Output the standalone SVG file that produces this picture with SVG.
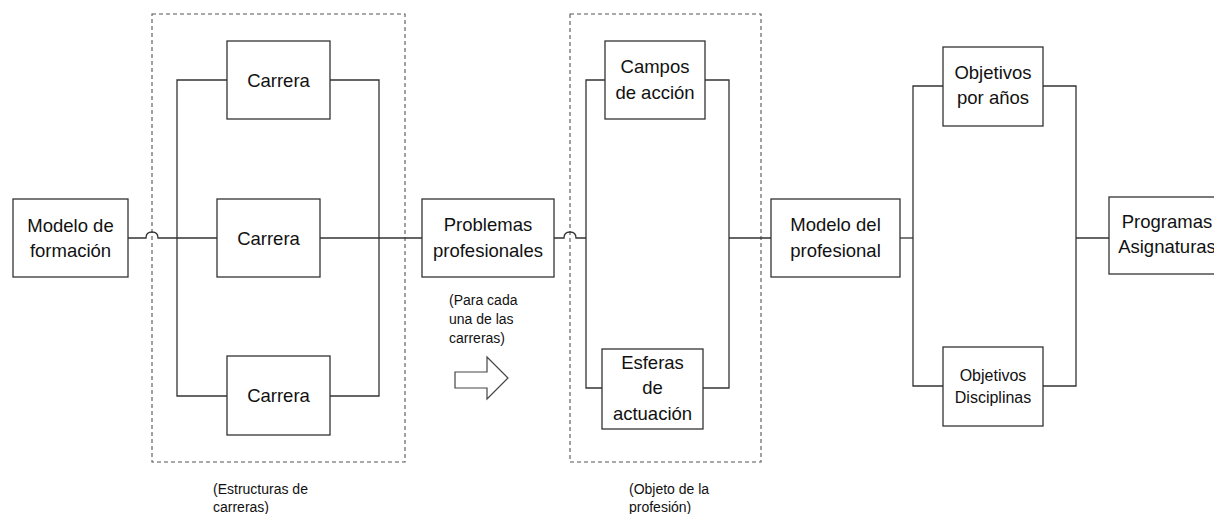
<svg xmlns="http://www.w3.org/2000/svg" width="1214" height="514" viewBox="0 0 1214 514">
<style>
.box{fill:#fff;stroke:#333;stroke-width:1.3}
.grp{fill:none;stroke:#555;stroke-width:1.1;stroke-dasharray:4 3}
.con{fill:none;stroke:#333;stroke-width:1.3}
text{font-family:"Liberation Sans",Arial,sans-serif;fill:#111}
.t{font-size:18.5px;text-anchor:middle}
.s{font-size:16px;text-anchor:middle}
.n{font-size:14px}
</style>
<rect width="1214" height="514" fill="#fff"/>
<g id="groups">
<rect id="grupo-estructuras" class="grp" x="152" y="14" width="253" height="448"/>
<rect id="grupo-objeto" class="grp" x="570" y="14" width="191" height="448"/>
</g>
<g id="connectors">
<path class="con" d="M128,238 H146 Q146,232 152,232 Q158,232 158,238 H217"/>
<path class="con" d="M227,80 H177 V396 H227"/>
<path class="con" d="M330,80 H379 V396 H330"/>
<path class="con" d="M320,238 H422"/>
<path class="con" d="M554,238 H564 Q564,232 570,232 Q576,232 576,238 H586"/>
<path class="con" d="M605,80 H586 V388 H602"/>
<path class="con" d="M705,80 H729 V388 H703"/>
<path class="con" d="M729,238 H771"/>
<path class="con" d="M900,238 H913"/>
<path class="con" d="M943,86 H913 V386 H943"/>
<path class="con" d="M1043,86 H1076 V386 H1043"/>
<path class="con" d="M1076,238 H1109"/>
</g>
<g id="modelo-formacion">
<rect class="box" x="13" y="199" width="115" height="78"/>
<text class="t" x="70.5" y="232">Modelo de</text>
<text class="t" x="70.5" y="257">formación</text>
</g>
<g id="carrera-1">
<rect class="box" x="227" y="41" width="103" height="78"/>
<text class="t" x="278.5" y="86.5">Carrera</text>
</g>
<g id="carrera-2">
<rect class="box" x="217" y="199" width="103" height="78"/>
<text class="t" x="268.5" y="244.5">Carrera</text>
</g>
<g id="carrera-3">
<rect class="box" x="227" y="356" width="103" height="79"/>
<text class="t" x="278.5" y="402">Carrera</text>
</g>
<g id="problemas">
<rect class="box" x="422" y="199" width="132" height="78"/>
<text class="t" x="488" y="231">Problemas</text>
<text class="t" x="488" y="257">profesionales</text>
</g>
<g id="nota-carreras">
<text class="n" x="449" y="305">(Para cada</text>
<text class="n" x="449" y="324">una de las</text>
<text class="n" x="449" y="343">carreras)</text>
<path d="M455,372 H487 V357 L508,378 L487,399 V388 H455 Z" fill="#fff" stroke="#444" stroke-width="1.2"/>
</g>
<g id="campos">
<rect class="box" x="605" y="41" width="100" height="78"/>
<text class="t" x="655" y="73">Campos</text>
<text class="t" x="655" y="99">de acción</text>
</g>
<g id="esferas">
<rect class="box" x="602" y="349" width="101" height="80"/>
<text class="t" x="652.5" y="369">Esferas</text>
<text class="t" x="652.5" y="394">de</text>
<text class="t" x="652.5" y="420">actuación</text>
</g>
<g id="modelo-profesional">
<rect class="box" x="771" y="199" width="129" height="78"/>
<text class="t" x="835.5" y="231">Modelo del</text>
<text class="t" x="835.5" y="257">profesional</text>
</g>
<g id="objetivos-anos">
<rect class="box" x="943" y="47" width="100" height="79"/>
<text class="t" x="993" y="79">Objetivos</text>
<text class="t" x="993" y="104">por años</text>
</g>
<g id="objetivos-disciplinas">
<rect class="box" x="943" y="347" width="100" height="79"/>
<text class="s" x="993" y="381">Objetivos</text>
<text class="s" x="993" y="403">Disciplinas</text>
</g>
<g id="programas">
<rect class="box" x="1109" y="197" width="125" height="77"/>
<text class="t" x="1167" y="228">Programas</text>
<text class="t" x="1167" y="253">Asignaturas</text>
</g>
<g id="etiquetas">
<text class="n" x="213" y="494">(Estructuras de</text>
<text class="n" x="213" y="512">carreras)</text>
<text class="n" x="629" y="494">(Objeto de la</text>
<text class="n" x="629" y="512">profesión)</text>
</g>
</svg>
